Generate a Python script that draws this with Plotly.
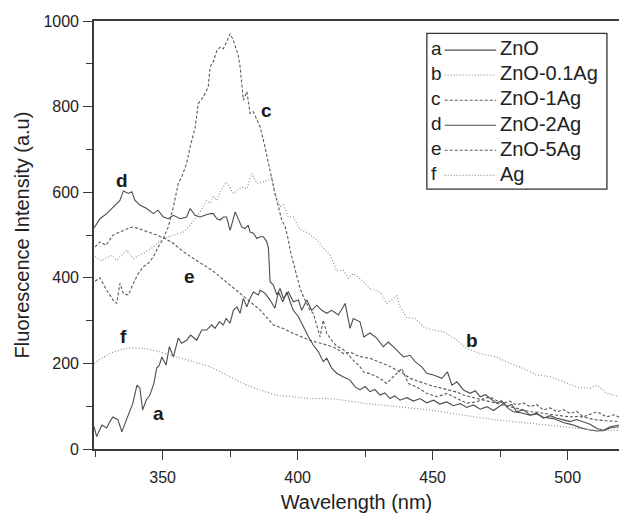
import plotly.graph_objects as go

# ---------------- data ----------------
wl_a = [324.6, 325.6, 327.5, 329.3, 330.5, 331.6, 333.5, 334.9, 336.1, 337.9, 339.0, 340.5, 341.6, 342.6, 343.9,
        345.3, 346.8, 347.8, 348.8, 349.7, 351.3, 352.5, 354.0, 355.8, 357.1, 358.9, 360.4, 362.6, 364.5, 366.3,
        368.2, 369.4, 371.0, 372.5, 373.5, 375.0, 376.2, 377.5, 378.7, 379.9, 381.2, 382.1, 383.6, 385.5, 386.1,
        387.9, 389.8, 391.6, 392.9, 394.5, 396.0, 397.2, 398.4, 400.3, 402.1, 404.0, 405.8, 407.7, 409.5, 410.8,
        412.6, 414.5, 416.8, 419.4, 421.3, 423.1, 425.0, 426.8, 428.6, 430.5, 432.3, 434.2, 436.0, 437.9, 440.4,
        442.9, 445.3, 447.8, 450.3, 452.7, 455.2, 457.7, 460.2, 462.6, 465.1, 467.6, 470.1, 472.5, 474.4, 476.2,
        478.0, 479.9, 483.0, 486.1, 488.6, 491.0, 494.7, 498.4, 501.5, 504.6, 507.7, 510.8, 513.3, 515.7, 519.0]
int_a = [52, 29, 56, 49, 64, 75, 68, 40, 60, 91, 107, 149, 142, 91, 114,
         126, 154, 189, 196, 215, 196, 239, 215, 259, 247, 254, 266, 254, 278, 278,
         290, 282, 297, 290, 305, 294, 324, 332, 317, 352, 332, 348, 367, 360, 371,
         364, 348, 329, 367, 344, 367, 344, 324, 309, 286, 262, 243, 227, 204, 212,
         189, 177, 169, 161, 145, 138, 146, 134, 139, 126, 131, 118, 124, 114, 120,
         112, 118, 108, 114, 105, 110, 101, 106, 97, 103, 93, 99, 90, 98, 107,
         95, 87, 84, 79, 82, 74, 71, 62, 57, 50, 45, 42, 43, 49, 52]

wl_b = [325.0, 327.2, 329.3, 331.2, 333.0, 335.0, 336.7, 339.2, 342.9, 346.6, 350.3, 354.0, 357.7, 360.2,
        363.9, 366.3, 367.6, 368.8, 370.1, 371.3, 373.7, 376.2, 379.3, 381.2, 383.0, 384.9, 387.3, 389.2,
        390.4, 391.6, 393.5, 394.7, 396.6, 398.4, 400.9, 404.0, 407.1, 409.5, 412.0, 414.5, 416.9, 418.8,
        420.6, 423.7, 426.8, 430.5, 433.0, 436.7, 437.9, 440.4, 443.5, 446.6, 449.7, 454.0, 459.0, 462.6,
        467.6, 473.7, 478.7, 483.6, 488.6, 493.5, 498.4, 503.4, 508.3, 510.8, 514.5, 519.0]
int_b = [450, 440, 447, 452, 441, 455, 465, 445, 457, 472, 492, 500, 507, 523,
         554, 581, 574, 589, 581, 601, 624, 597, 612, 608, 644, 620, 624, 628,
         636, 597, 566, 570, 542, 542, 513, 504, 488, 472, 453, 416, 418, 399,
         410, 395, 375, 367, 340, 358, 332, 307, 305, 286, 278, 274, 254, 235,
         223, 215, 200, 188, 173, 169, 157, 145, 142, 149, 130, 122]

wl_c = [325.0, 326.8, 329.3, 331.7, 333.0, 334.2, 335.5, 337.3, 339.2, 341.0, 342.9, 344.7, 346.6, 348.4,
        350.3, 352.1, 354.0, 355.8, 357.1, 358.9, 360.2, 362.0, 363.2, 365.1, 366.9, 367.6, 368.8, 370.1,
        371.3, 372.5, 373.7, 375.0, 376.2, 376.9, 378.0, 378.7, 379.4, 379.9, 381.2, 382.4, 383.6, 384.9,
        386.1, 387.9, 389.2, 390.4, 391.6, 392.9, 394.1, 395.4, 396.6, 397.2, 398.4, 399.7, 400.9, 402.7,
        404.6, 405.8, 407.7, 408.3, 409.5, 410.8, 412.6, 414.5, 417.0, 419.4, 421.0, 423.1, 424.4, 426.8,
        429.3, 431.7, 433.0, 434.8, 436.7, 438.6, 441.0, 444.1, 447.8, 451.7, 455.2, 458.9, 462.6, 466.3,
        469.0, 471.3, 474.0, 476.2, 478.5, 481.1, 483.5, 486.1, 488.5, 491.0, 493.5, 496.0, 498.5, 500.9,
        503.3, 505.8, 508.0, 510.8, 514.5, 517.0, 519.0]
int_c = [392, 400, 371, 348, 340, 387, 363, 360, 387, 410, 426, 434, 449, 472,
         492, 519, 566, 620, 636, 667, 706, 749, 807, 823, 846, 893, 905, 931,
         939, 935, 951, 970, 955, 939, 920, 893, 853, 815, 835, 784, 788, 768,
         753, 706, 667, 636, 597, 566, 535, 519, 488, 465, 434, 402, 375, 348,
         324, 317, 278, 262, 301, 270, 254, 240, 232, 215, 205, 192, 180, 176,
         169, 160, 153, 165, 177, 188, 153, 145, 130, 122, 130, 118, 107, 110,
         118, 122, 112, 107, 112, 103, 108, 99, 104, 91, 96, 87, 92, 83,
         88, 75, 80, 87, 75, 80, 75]

wl_d = [324.7, 326.8, 329.3, 331.7, 334.2, 335.5, 337.3, 338.6, 339.8, 341.6, 344.1, 346.6, 348.3, 350.3,
        352.1, 354.0, 356.5, 358.9, 360.2, 362.0, 363.9, 365.7, 367.6, 368.8, 370.1, 371.3, 372.5, 373.7,
        375.0, 376.9, 379.3, 380.5, 381.7, 382.4, 383.6, 384.9, 386.1, 387.3, 388.6, 389.2, 389.4, 389.8,
        391.0, 392.3, 393.5, 394.7, 396.6, 398.4, 400.3, 401.5, 403.4, 405.2, 407.1, 408.9, 410.8, 412.6,
        415.1, 417.6, 419.4, 420.6, 423.1, 424.5, 426.8, 429.3, 431.7, 433.6, 436.7, 439.2, 441.6, 443.5,
        446.0, 447.8, 450.3, 453.4, 455.5, 457.1, 459.0, 461.4, 463.9, 465.8, 467.6, 469.5, 471.3, 473.7,
        475.5, 477.5, 479.3, 481.1, 483.5, 486.1, 488.5, 491.0, 493.5, 496.0, 498.5, 500.9, 503.3, 505.8,
        508.3, 510.8, 513.3, 515.7, 519.0]
int_d = [517, 538, 550, 566, 581, 603, 597, 601, 581, 570, 562, 550, 558, 542,
         538, 546, 538, 542, 562, 546, 542, 546, 550, 550, 538, 535, 542, 542,
         511, 554, 519, 515, 523, 507, 504, 492, 496, 496, 484, 469, 434, 391,
         383, 360, 375, 352, 367, 344, 348, 324, 348, 324, 336, 324, 317, 324,
         313, 340, 282, 305, 297, 262, 271, 259, 239, 250, 231, 215, 219, 204,
         192, 177, 173, 165, 180, 149, 157, 138, 130, 136, 122, 127, 118, 107,
         113, 99, 104, 87, 92, 79, 84, 72, 78, 72, 68, 64, 69, 64,
         58, 48, 44, 52, 56]

wl_e = [325.0, 326.8, 329.0, 331.7, 333.5, 335.5, 337.5, 339.2, 341.6, 344.7, 347.8, 350.9, 354.0, 357.7,
        361.4, 365.1, 368.2, 371.3, 375.0, 378.7, 382.4, 386.1, 391.0, 394.5, 398.4, 404.6, 410.8, 414.0,
        417.0, 419.5, 421.9, 424.4, 426.8, 429.3, 431.7, 434.2, 436.7, 439.2, 441.6, 444.0, 446.5, 449.0,
        451.5, 454.0, 456.5, 459.0, 461.4, 463.9, 466.3, 468.8, 471.3, 473.7, 476.2, 478.7, 481.1, 483.6,
        486.1, 488.6, 491.0, 493.5, 496.0, 498.4, 500.9, 503.4, 505.8, 508.3, 510.8, 514.5, 519.0]
int_e = [472, 484, 476, 500, 505, 511, 516, 519, 513, 507, 500, 492, 480, 461,
         445, 430, 418, 402, 383, 363, 344, 325, 290, 282, 270, 254, 243, 236,
         223, 226, 219, 214, 212, 206, 200, 193, 184, 176, 165, 160, 153, 149,
         145, 141, 138, 133, 126, 122, 118, 115, 110, 107, 103, 99, 95, 92,
         87, 86, 83, 81, 79, 77, 75, 76, 75, 71, 68, 66, 64]

wl_f = [324.6, 330.5, 336.7, 342.9, 349.0, 355.2, 361.4, 367.6, 373.7, 379.9, 386.1, 392.3, 398.4, 404.6,
        410.8, 417.0, 424.4, 436.7, 449.0, 461.4, 473.7, 486.1, 498.4, 510.8, 519.0]
int_f = [200, 223, 235, 235, 227, 215, 204, 192, 173, 153, 138, 126, 122, 118,
         118, 114, 107, 99, 91, 79, 68, 60, 52, 44, 44]

legend_keys = ["a", "b", "c", "d", "e", "f"]
legend_names = ["ZnO", "ZnO-0.1Ag", "ZnO-1Ag", "ZnO-2Ag", "ZnO-5Ag", "Ag"]

curve_labels = ["d", "f", "a", "e", "c", "b"]
curve_label_x = [334.9, 335.5, 348.4, 359.9, 388.6, 464.5]
curve_label_y = [628, 262, 83, 402, 791, 254]

x_ticks = [350, 400, 450, 500]
y_ticks = [0, 200, 400, 600, 800, 1000]

# ---------------- styles ----------------
FONT = "Liberation Sans, Arial, Helvetica, sans-serif"
SOLID = "#4d4d4d"
DASHC = "#5a5a5a"
DOTC = "#939393"
styles = {
    "a": dict(color=SOLID, dash="solid", width=1.1),
    "b": dict(color=DOTC, dash="1px,2px", width=1.2),
    "c": dict(color=DASHC, dash="3px,2px", width=1.1),
    "d": dict(color=SOLID, dash="solid", width=1.1),
    "e": dict(color=DASHC, dash="3px,2px", width=1.1),
    "f": dict(color=DOTC, dash="1px,2px", width=1.2),
}

series = {
    "a": (wl_a, int_a), "b": (wl_b, int_b), "c": (wl_c, int_c),
    "d": (wl_d, int_d), "e": (wl_e, int_e), "f": (wl_f, int_f),
}

fig = go.Figure()
for k, name in zip(legend_keys, legend_names):
    x, y = series[k]
    st = styles[k]
    fig.add_trace(go.Scatter(
        x=x, y=y, mode="lines", name=name, showlegend=False,
        line=dict(color=st["color"], dash=st["dash"], width=st["width"],
                  shape="spline" if k == "f" else "linear", smoothing=0.6 if k == "f" else None),
    ))

# curve letter labels
for t, lx, ly in zip(curve_labels, curve_label_x, curve_label_y):
    fig.add_annotation(x=lx, y=ly, xref="x", yref="y", text=f"<b>{t}</b>", showarrow=False,
                       font=dict(family=FONT, size=19, color="#1a1a1a"))

# hand-drawn legend box (paper coords)
box_x0, box_x1, box_y0, box_y1 = 0.634, 0.977, 0.607, 0.971
fig.add_shape(type="rect", xref="paper", yref="paper", x0=box_x0, x1=box_x1, y0=box_y0, y1=box_y1,
              line=dict(color="#333333", width=1.3), fillcolor="white", layer="above")
row_top = 0.936
row_step = 0.0585
for i, (k, name) in enumerate(zip(legend_keys, legend_names)):
    yy = row_top - i * row_step
    st = styles[k]
    fig.add_annotation(x=0.639, y=yy, xref="paper", yref="paper", text=k, showarrow=False,
                       xanchor="left", yanchor="middle", font=dict(family=FONT, size=19, color="#222222"))
    fig.add_shape(type="line", xref="paper", yref="paper", x0=0.668, x1=0.766, y0=yy - 0.004, y1=yy - 0.004,
                  line=dict(color=st["color"], dash=st["dash"], width=st["width"]), layer="above")
    fig.add_annotation(x=0.77, y=yy, xref="paper", yref="paper", text=name, showarrow=False,
                       xanchor="left", yanchor="middle", font=dict(family=FONT, size=20, color="#222222"))

axis_common = dict(showgrid=False, zeroline=False, showline=True, linecolor="#3a3a3a", linewidth=1.6,
                   ticks="outside", ticklen=9, tickwidth=1.3, tickcolor="#3a3a3a",
                   tickfont=dict(family=FONT, size=16, color="#222222"))

fig.update_xaxes(range=[324.6, 519.0], tickvals=x_ticks, mirror=True,
                 minor=dict(dtick=25, tick0=325, ticks="outside", ticklen=6, tickcolor="#3a3a3a", tickwidth=1.2),
                 title=dict(text="Wavelength (nm)", font=dict(family=FONT, size=20, color="#222222"), standoff=10),
                 ticklabelstandoff=4, **axis_common)
fig.update_yaxes(range=[0, 1000], tickvals=y_ticks,
                 minor=dict(dtick=100, tick0=0, ticks="outside", ticklen=6, tickcolor="#3a3a3a", tickwidth=1.2),
                 title=dict(text="Fluorescence Intensity (a.u)", font=dict(family=FONT, size=20, color="#222222"),
                            standoff=8),
                 ticklabelstandoff=1, **axis_common)

fig.update_layout(width=619, height=513, margin=dict(l=94, r=0, t=21, b=64),
                  paper_bgcolor="white", plot_bgcolor="white", showlegend=False)

fig.write_html("out.html")
